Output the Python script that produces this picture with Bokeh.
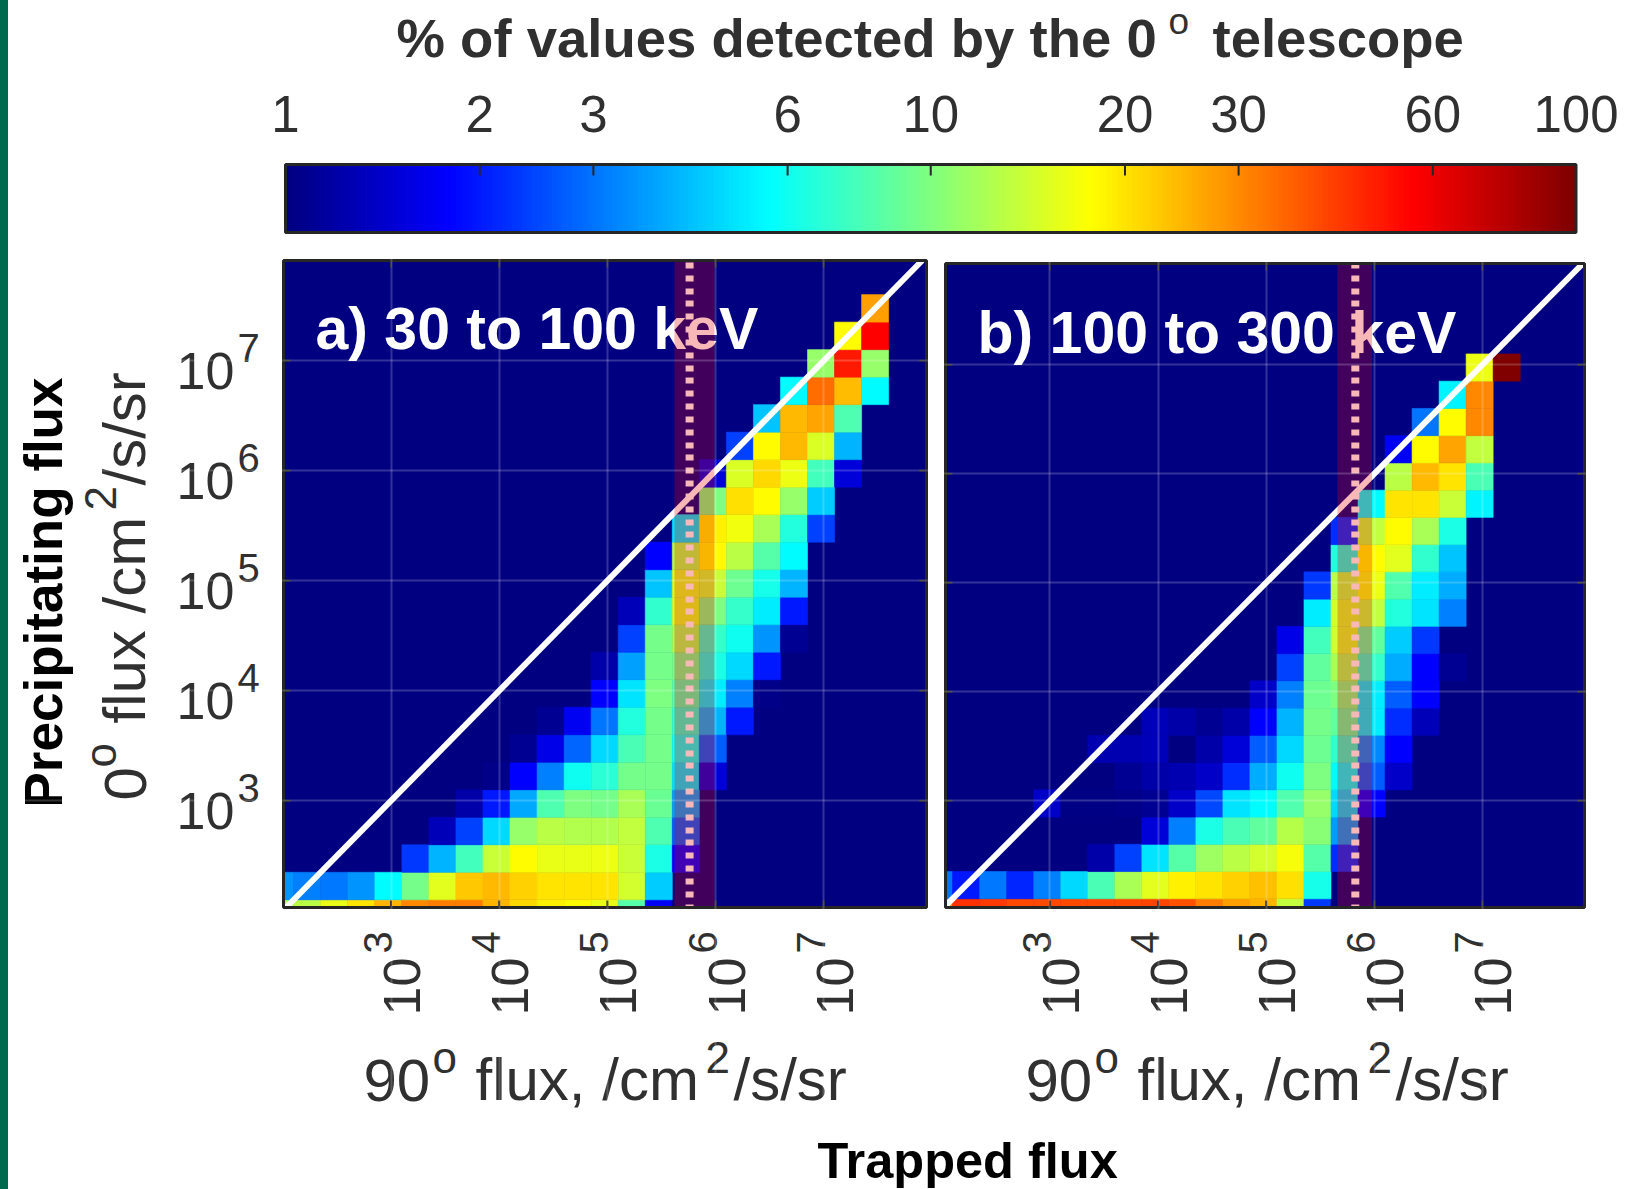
import math
import numpy as np
from bokeh.embed import file_html
from bokeh.resources import INLINE
from bokeh.layouts import column, row
from bokeh.models import Label, Grid, FixedTicker, LogColorMapper, ColumnDataSource, Range1d
from bokeh.plotting import figure

# ---------- data: percentage per cell; columns/rows are flux bins ----------
a_start = [0, 0, 5, 6, 7, 8, 9, 10, 12, 12, 13, 13, 14, 14, 15, 16, 16, 17, 18, 19, 20, 21, 22]
a_values = [
    [12, 13, 16, 20, 25, 30, 32, 32, 25, 21, 19, 17.8, 16, 8.3, 1.7, 1],
    [3.5, 3.2, 3.1, 3.5, 5.6, 9.5, 15.5, 22.5, 24.5, 22, 20, 20, 20, 14.5, 4.5],
    [2.3, 4, 7.5, 14, 17.8, 16, 16, 16.5, 14, 6.3, 1.75],
    [1.3, 2.4, 4.7, 11, 13, 12.6, 12.6, 13.5, 8, 2.7],
    [1.2, 2, 3.8, 8, 10, 9.5, 12, 9, 3.7],
    [1.05, 1.8, 3.2, 6, 6.8, 9.6, 9.6, 5, 1.5],
    [1.1, 1.6, 2.8, 4.7, 7.8, 9.6, 6, 2.7],
    [1.1, 1.7, 3, 6.5, 9.6, 7, 4, 2],
    [1.8, 5, 10, 8.3, 5.2, 3.2, 1.05],
    [1.2, 3.7, 9.6, 9.6, 6.3, 4.7, 2],
    [2.4, 9.5, 12, 7.2, 6, 3.5, 1.1],
    [1.3, 7, 15, 10, 7.2, 5.2, 2],
    [4.3, 15, 14, 9.3, 6.2, 4],
    [1.8, 12.5, 17.8, 13, 8.3, 5.6],
    [5, 19, 16.8, 12, 6.5, 2.4],
    [10, 20.5, 17.8, 11, 4.5],
    [1.5, 15, 21, 16.5, 7.5, 1.5],
    [2.4, 17.8, 24.5, 15, 4],
    [4.3, 24.5, 26.5, 8],
    [5.6, 34, 24, 5.6],
    [11, 50, 11],
    [17.8, 56],
    [27],
]
b_start = [0, 0, 6, 8, 4, 7, 6, 8, 12, 13, 13, 14, 14, 15, 15, 16, 17, 17, 18, 19, 20]
b_values = [
    [30, 45, 43, 40, 40, 40, 40, 40, 41, 39, 32, 27, 25, 13.5, 2.3, 1],
    [3, 2, 3.1, 2.1, 3.2, 4.7, 7.8, 12, 15.5, 19, 20, 22, 23.7, 20.5, 6.2],
    [1.2, 2.4, 5, 8.3, 11.5, 13, 14.5, 17, 8.3, 2.2],
    [1.5, 3.2, 6.3, 7.8, 8.8, 12.7, 10.5, 3.6],
    [1.4, 1.03, 1.03, 1.05, 1.1, 1.4, 2.5, 5, 5.6, 8.2, 11, 4.7, 1.8],
    [1.1, 1.2, 1.25, 1.4, 2.2, 3.9, 6, 10, 5.6, 2.7, 1.4],
    [1.25, 1.25, 1.3, 1, 1.2, 1.5, 2.7, 4.7, 9.3, 7, 3.3, 1.8],
    [1.3, 1.2, 1.1, 1.2, 1.8, 4, 9.5, 8.8, 5.2, 2.2, 1.3],
    [1.4, 3.2, 9.3, 10, 5.2, 2.7, 1.8],
    [2.4, 8.8, 12, 7.2, 3.9, 1.8, 1.1],
    [1.6, 7.5, 14.5, 8.8, 4.5, 2.3],
    [5.2, 14.5, 13.5, 6.5, 5, 3.2],
    [2.3, 13, 16.5, 8.2, 5.2, 3.9],
    [6.5, 17.8, 15.5, 7, 4.3],
    [2.2, 13.5, 17.8, 12, 6.3],
    [5.6, 20, 20, 14, 5.4],
    [13, 24.5, 20, 7.8],
    [1.7, 17.8, 26.5, 13.5],
    [3, 17.8, 30],
    [5.4, 30],
    [16.5, 100],
]
bin_low = [2.0] + [2.1 + 0.25 * k for k in range(24)]
bin_high = [2.1 + 0.25 * k for k in range(25)]
flux_ticks = [1e3, 1e4, 1e5, 1e6, 1e7]
flux_exps = ["3", "4", "5", "6", "7"]
cbar_ticks = [1, 2, 3, 6, 10, 20, 30, 60, 100]
band_a = (5.62, 5.99, 5.76)
band_b = (5.66, 5.98, 5.825)

# ---------- colour map ----------
def jet(t):
    r = min(4*t-1.5, -4*t+4.5)
    g = min(4*t-0.5, -4*t+3.5)
    b = min(4*t+0.5, -4*t+2.5)
    c = [max(0, min(1, v)) for v in (r, g, b)]
    return "#%02x%02x%02x" % tuple(int(round(v*255)) for v in c)

JET = [jet(i/255) for i in range(256)]
mapper = LogColorMapper(palette=JET, low=1, high=100)
INK = "#303030"
FRAME = "#262626"
FONT = "Liberation Sans"
DESC = 0.212
ROT = math.pi/2
CT, CB = 234, 1128   # page rows of the panel figures


def txt(p, fl, fb, text, X, Y, size, color=INK, bold=False, rot=False, data_x=None, dx=0, align="left"):
    """Real text with its baseline start at page position X,Y (or at data x + dx)."""
    # a digits-only text has no descent in the box that Bokeh measures for it
    d = 0 if text.isdigit() else DESC*size
    sy = fb - (Y if rot else Y + d)
    if data_x is None:
        x, units = (X + d if rot else X) - fl, "screen"
        off = 0
    else:
        x, units = data_x, "data"
        off = dx + (d if rot else 0)
    p.add_layout(Label(x=x, x_units=units, x_offset=off, y=sy, y_units="screen", text=text,
                       text_font=FONT, text_font_size=f"{size}px", text_color=color,
                       text_font_style="bold" if bold else "normal", text_align=align,
                       text_baseline="bottom", angle=ROT if rot else 0))


def panel(start, values, band, cl, W, page_l, page_r, xlim, ylim, page_t, page_b, title, tx, ty, y_labels):
    """A figure whose frame fills the canvas, so that its outer labels are not clipped."""
    xd = (page_r-page_l)/(xlim[1]-xlim[0])
    yd = (page_b-page_t)/(ylim[1]-ylim[0])
    xr = (xlim[0]-(page_l-cl)/xd, xlim[1]+(cl+W-page_r)/xd)
    yr = (ylim[0]-(CB-page_b)/yd, ylim[1]+(page_t-CT)/yd)
    p = figure(width=W, height=CB-CT, x_axis_type="log", y_axis_type="log",
               x_range=Range1d(10**xr[0], 10**xr[1]), y_range=Range1d(10**yr[0], 10**yr[1]),
               x_axis_location=None, y_axis_location=None, output_backend="svg", toolbar_location=None,
               min_border=0, outline_line_color=None)
    p.grid.visible = False
    xa, xb, ya, yb = 10**xlim[0], 10**xlim[1], 10**ylim[0], 10**ylim[1]
    p.quad(left=[xa], right=[xb], bottom=[ya], top=[yb], fill_color="#000080", line_color=None)
    x0, x1, y0, y1, v = [], [], [], [], []
    for j, (s, vals) in enumerate(zip(start, values)):
        for i, val in enumerate(vals):
            x0.append(max(xa, 10**bin_low[s+i])); x1.append(10**bin_high[s+i])
            y0.append(max(ya, 10**bin_low[j])); y1.append(10**bin_high[j])
            v.append(val)
    col = {"field": "v", "transform": mapper}
    p.quad(left="x0", right="x1", bottom="y0", top="y1", fill_color=col, line_color=col, line_width=0.6,
           source=ColumnDataSource(dict(x0=x0, x1=x1, y0=y0, y1=y1, v=v)))
    diag = [10**max(xlim[0], ylim[0]), 10**min(xlim[1], ylim[1])]
    p.line(diag, diag, line_color="white", line_width=6)
    txt(p, cl, CB, title, tx, ty, 59, color="white", bold=True)
    p.line([10**band[2]]*2, [ya, yb], line_color="white", line_width=8, line_cap="butt",
           line_dash="6 7 6 7 6 7 6 7 6 7 6 6", line_dash_offset=3, level="annotation")
    p.quad(left=[10**band[0]], right=[10**band[1]], bottom=[ya], top=[yb],
           fill_color="#e60000", fill_alpha=0.28, line_color=None, level="overlay")
    for dim, bounds in ((0, (ya, yb)), (1, (xa, xb))):
        p.add_layout(Grid(dimension=dim, ticker=FixedTicker(ticks=flux_ticks), bounds=bounds, level="overlay",
                          grid_line_color="white", grid_line_alpha=0.2, grid_line_width=2))
    txk, tyk = 10**(7/yd), 10**(7/xd)
    n = len(flux_ticks)
    p.segment(flux_ticks, [ya]*n, flux_ticks, [ya*txk]*n, line_color=FRAME, line_width=2, level="overlay")
    p.segment(flux_ticks, [yb]*n, flux_ticks, [yb/txk]*n, line_color=FRAME, line_width=2, level="overlay")
    p.segment([xa]*n, flux_ticks, [xa*tyk]*n, flux_ticks, line_color=FRAME, line_width=2, level="overlay")
    p.segment([xb]*n, flux_ticks, [xb/tyk]*n, flux_ticks, line_color=FRAME, line_width=2, level="overlay")
    p.quad(left=[xa], right=[xb], bottom=[ya], top=[yb], fill_color=None, line_color=FRAME, line_width=3, level="overlay")
    for t, e in zip(flux_ticks, flux_exps):
        txt(p, cl, CB, "10", 0, 1015, 52, rot=True, data_x=t, dx=29)
        txt(p, cl, CB, e, 0, 953, 40, rot=True, data_x=t, dx=1)
    o = page_l - 283
    txt(p, cl, CB, "90", 363+o, 1100, 60)
    txt(p, cl, CB, "o", 432+o, 1072, 44)
    txt(p, cl, CB, "flux, /cm", 475+o, 1100, 60)
    txt(p, cl, CB, "2", 705+o, 1072, 44)
    txt(p, cl, CB, "/s/sr", 733+o, 1100, 60)
    if y_labels:
        for t, e in zip(flux_ticks, flux_exps):
            p.add_layout(Label(x=176-cl, x_units="screen", y=t, y_units="data", y_offset=-28, text="10",
                               text_font=FONT, text_font_size="52px", text_color=INK, text_align="left", text_baseline="bottom"))
            p.add_layout(Label(x=237-cl, x_units="screen", y=t, y_units="data", y_offset=-1, text=e,
                               text_font=FONT, text_font_size="40px", text_color=INK, text_align="left", text_baseline="bottom"))
        txt(p, cl, CB, "Precipitating flux", 61, 807, 53, color="#000000", bold=True, rot=True)
        txt(p, cl, CB, "0", 145, 800, 60, rot=True)
        txt(p, cl, CB, "o", 115, 767, 44, rot=True)
        txt(p, cl, CB, "flux /cm", 145, 723, 60, rot=True)
        txt(p, cl, CB, "2", 115, 510, 44, rot=True)
        txt(p, cl, CB, "/s/sr", 145, 485, 60, rot=True)
    return p


# ---------- colour bar figure ----------
L, R, T, B = 285, 1575.5, 164, 232      # bar edges on the page
dec = (R-L)/2
cb = figure(width=1628, height=CT, x_axis_type="log",
            x_range=Range1d(10**((8-L)/dec), 10**((1636-L)/dec)), y_range=Range1d(CT, 0),
            x_axis_location=None, y_axis_location=None, output_backend="svg", toolbar_location=None,
            min_border=0, outline_line_color=None)
cb.grid.visible = False
edges = np.logspace(0, 2, 257)
cb.quad(left=edges[:-1], right=edges[1:], bottom=B, top=T, fill_color=JET, line_color=JET, line_width=1.2)
cb.segment(cbar_ticks, [T]*9, cbar_ticks, [T+11]*9, line_color=FRAME, line_width=2)
cb.quad(left=[1], right=[100], bottom=[B], top=[T], fill_color=None, line_color=FRAME, line_width=3)
for t in cbar_ticks:
    txt(cb, 8, CT, str(t), 0, 131.5, 51, data_x=t, align="center")
txt(cb, 8, CT, "% of values detected by the 0", 396, 57, 54.5, bold=True)
txt(cb, 8, CT, "o", 1168, 33.5, 37)
txt(cb, 8, CT, "telescope", 1212, 57, 54.5, bold=True)

# ---------- panels ----------
pa = panel(a_start, a_values, band_a, 8, 927, 283, 926, (2.006, 7.95), (2.03, 7.91), 260, 907,
           "a) 30 to 100 keV", 315, 349, True)
pb = panel(b_start, b_values, band_b, 935, 701, 945, 1584, (2.034, 7.945), (2.02, 7.93), 263, 907,
           "b) 100 to 300 keV", 977, 352.7, False)

# ---------- bottom strip ----------
bot = figure(width=1628, height=1189-CB, x_range=Range1d(0, 1), y_range=Range1d(0, 1), x_axis_location=None, y_axis_location=None,
             output_backend="svg", toolbar_location=None, min_border=0, outline_line_color=None)
bot.grid.visible = False
txt(bot, 8, 1189, "Trapped flux", 817, 1178, 50.5, color="#000000", bold=True)

layout = column(cb, row(pa, pb, spacing=0), bot, spacing=0)
html = file_html(layout, INLINE)
html = html.replace("</head>", "<style>body{margin:0 8px;background:linear-gradient(90deg,#006a4e 8px,#ffffff 8px) no-repeat;}</style></head>", 1)
open("out.html", "w").write(html)
